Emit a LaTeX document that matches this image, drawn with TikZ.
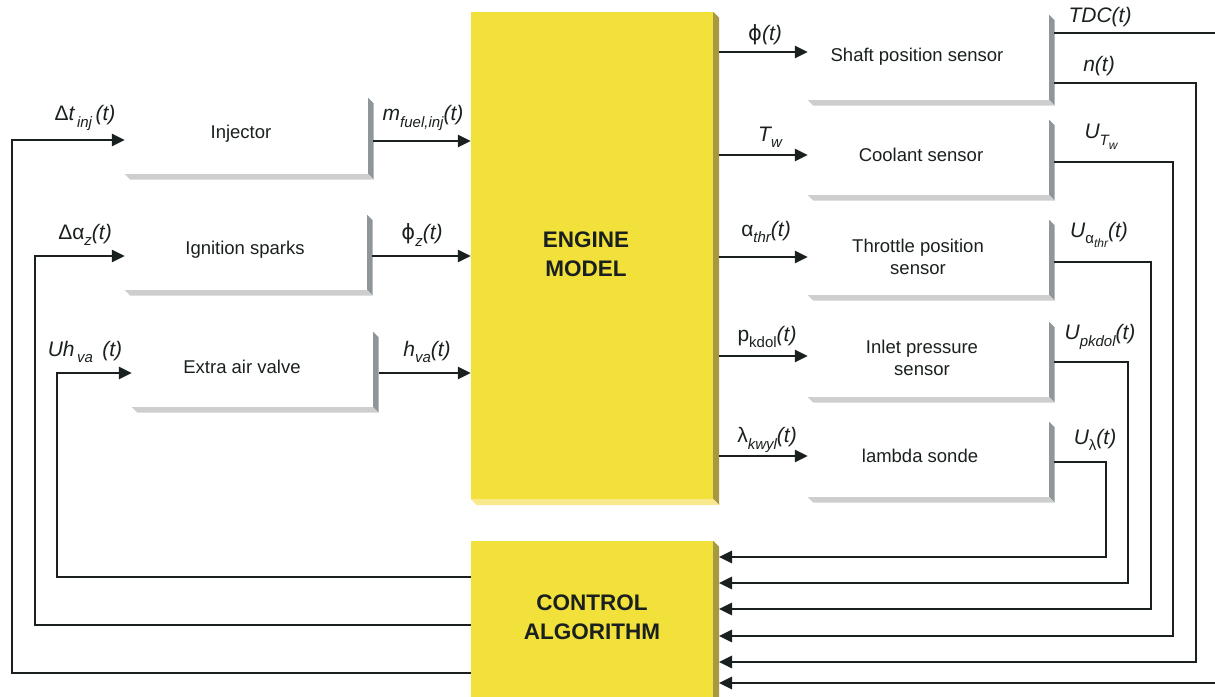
\documentclass[tikz,border=0pt]{standalone}
\usepackage{fontspec}
\setmainfont{Liberation Sans}
\newfontfamily\djv{DejaVu Sans}
\usetikzlibrary{arrows.meta,calc}
\definecolor{ylw}{RGB}{243,225,59}
\definecolor{olv}{RGB}{166,153,66}
\definecolor{lyel}{RGB}{248,234,140}
\definecolor{dgray}{RGB}{143,150,153}
\definecolor{lgray}{RGB}{206,206,206}
\definecolor{ink}{RGB}{26,32,32}
\newcommand\sbx[1]{\raisebox{-0.3em}{\fontsize{15}{15}\selectfont #1}}
\newcommand\ssbx[1]{\raisebox{-0.3em}{\fontsize{12}{12}\selectfont #1}}
\newcommand\fii{{\upshape\djv ϕ}}
\newcommand\threed[4]{%
  \fill[#3] (#1.north east) -- ++(#2,#2) -- ($(#1.south east)+(#2,#2)$) -- (#1.south east) -- cycle;
  \fill[#4] (#1.south west) -- (#1.south east) -- ($(#1.south east)+(#2,#2)$) -- ($(#1.south west)+(#2,#2)$) -- cycle;}
\tikzset{
  blk/.style={fill=white, draw=none, inner sep=0pt, minimum width=241pt},
  ybox/.style={fill=ylw, draw=none, inner sep=0pt, minimum width=242pt},
  btxt/.style={font=\fontsize{18.5}{22}\selectfont, text=ink, align=center, inner sep=0pt},
  bold/.style={font=\fontsize{22.5}{29}\selectfont\bfseries, text=ink, align=center, inner sep=0pt},
  lbl/.style={font=\fontsize{21}{24}\selectfont\itshape, text=ink, inner sep=0pt},
  arr/.style={draw=ink, line width=2.6pt, -{Triangle[length=13pt,width=12pt]}},
  ln/.style={draw=ink, line width=2.6pt}
}
\begin{document}
\begin{tikzpicture}[x=1pt,y=-1pt]
\useasboundingbox (0,0) rectangle (1215,696);
% left boxes
\node[blk, minimum width=243pt, minimum height=76pt] (inj) at (246.5,136) {};
\node[blk, minimum width=242pt, minimum height=75pt] (ign) at (246,252.5) {};
\node[blk, minimum width=241pt, minimum height=75pt] (eav) at (252.5,369.5) {};
\threed{inj}{5.5}{dgray}{lgray}
\threed{ign}{5.5}{dgray}{lgray}
\threed{eav}{5.5}{dgray}{lgray}
\node[btxt] (tinj) at (241,134) {Injector};
\node[btxt] (tign) at (245,250) {Ignition sparks};
\node[btxt] (teav) at (242,367) {Extra air valve};
% engine and control
\node[ybox, minimum height=487pt] (eng) at (592,255.5) {};
\threed{eng}{6}{olv}{lyel}
\node[bold] (teng) at (586,254) {ENGINE\\MODEL};
\node[ybox, minimum height=200pt] (ctl) at (592,641) {};
\fill[olv] (ctl.north east) -- ++(6,6) -- ($(ctl.south east)+(6,6)$) -- (ctl.south east) -- cycle;
\node[bold] (tctl) at (592,617) {CONTROL\\ALGORITHM};
% sensors
\node[blk, minimum height=85pt] (sh) at (928.5,57.5) {};
\node[blk, minimum height=75pt] (co) at (928.5,157.5) {};
\node[blk, minimum height=75pt] (th) at (928.5,257.5) {};
\node[blk, minimum height=75pt] (ip) at (928.5,359.5) {};
\node[blk, minimum height=75pt] (la) at (928.5,459.5) {};
\threed{sh}{5.5}{dgray}{lgray}
\threed{co}{5.5}{dgray}{lgray}
\threed{th}{5.5}{dgray}{lgray}
\threed{ip}{5.5}{dgray}{lgray}
\threed{la}{5.5}{dgray}{lgray}
\node[btxt] (tsh) at (917,57) {Shaft position sensor};
\node[btxt] (tco) at (921,155) {Coolant sensor};
\node[btxt] (tth) at (918,257) {Throttle position\\sensor};
\node[btxt] (tip) at (922,358) {Inlet pressure\\sensor};
\node[btxt] (tla) at (920,456) {lambda sonde};
% left inputs from control
\coordinate (c1) at (471,577);
\coordinate (c2) at (471,625);
\coordinate (c3) at (471,673);
\coordinate (k1) at (57,373);
\coordinate (k2) at (35,256);
\coordinate (k3) at (12,140);
\draw[arr] (c1) -| (k1) -- (k1 -| eav.west);
\draw[arr] (c2) -| (k2) -- (k2 -| ign.west);
\draw[arr] (c3) -| (k3) -- (k3 -| inj.west);
% outputs to engine
\coordinate (o1) at (373,141);
\coordinate (o2) at (372,256);
\coordinate (o3) at (379,373);
\draw[arr] (o1) -- (o1 -| eng.west);
\draw[arr] (o2) -- (o2 -| eng.west);
\draw[arr] (o3) -- (o3 -| eng.west);
% engine to sensors
\coordinate (e1) at (719,52);
\coordinate (e2) at (719,155);
\coordinate (e3) at (719,257);
\coordinate (e4) at (719,356);
\coordinate (e5) at (719,456);
\draw[arr] (e1) -- (e1 -| sh.west);
\draw[arr] (e2) -- (e2 -| co.west);
\draw[arr] (e3) -- (e3 -| th.west);
\draw[arr] (e4) -- (e4 -| ip.west);
\draw[arr] (e5) -- (e5 -| la.west);
% sensor outputs to control
\coordinate (s0) at (1054,33);
\coordinate (s0e) at (1215,33);
\draw[ln] (s0) -- (s0e);
\coordinate (s1) at (1054,83);
\coordinate (s2) at (1054,162);
\coordinate (s3) at (1054,262);
\coordinate (s4) at (1054,362);
\coordinate (s5) at (1054,462);
\coordinate (r1) at (1196,662);
\coordinate (r2) at (1173,636);
\coordinate (r3) at (1151,609);
\coordinate (r4) at (1128,583);
\coordinate (r5) at (1106,557);
\coordinate (r6) at (1215,683);
\coordinate (ce) at (719,600);
\draw[arr] (s1) -| (r1) -- (r1 -| ce);
\draw[arr] (s2) -| (r2) -- (r2 -| ce);
\draw[arr] (s3) -| (r3) -- (r3 -| ce);
\draw[arr] (s4) -| (r4) -- (r4 -| ce);
\draw[arr] (s5) -| (r5) -- (r5 -| ce);
\draw[arr] (r6) -- (r6 -| ce);
% labels left
\node[lbl] (l1) at (85,118) {{\upshape Δ}t\sbx{\,inj}\,(t)};
\node[lbl] (l2) at (423,118) {m\sbx{fuel,inj}(t)};
\node[lbl] (l3) at (85,235) {{\upshape Δα}\sbx{z}(t)};
\node[lbl] (l4) at (422,235) {\fii\sbx{z}(t)};
\node[lbl] (l5) at (85,352) {Uh\sbx{\,va}\ \,(t)};
\node[lbl] (l6) at (427,352) {h\sbx{va}(t)};
% labels right
\node[lbl] (r1l) at (765,35) {\fii(t)};
\node[lbl] (r2l) at (770,137) {T\sbx{w}};
\node[lbl] (r3l) at (766,232) {{\upshape α}\sbx{thr}(t)};
\node[lbl] (r4l) at (767,337) {{\upshape p\sbx{kdol}}(t)};
\node[lbl] (r5l) at (767,440) {{\upshape λ}\sbx{kwyl}(t)};
\node[lbl] (q0) at (1100,17) {TDC(t)};
\node[lbl] (q1) at (1099,66) {n(t)};
\node[lbl] (q2) at (1101,137) {U\sbx{T\ssbx{w}}};
\node[lbl] (q3) at (1099,235) {U\sbx{{\upshape α}\ssbx{thr}}(t)};
\node[lbl] (q4) at (1100,337) {U\sbx{pkdol}(t)};
\node[lbl] (q5) at (1095,440) {U\sbx{\upshape λ}(t)};
\end{tikzpicture}
\end{document}
